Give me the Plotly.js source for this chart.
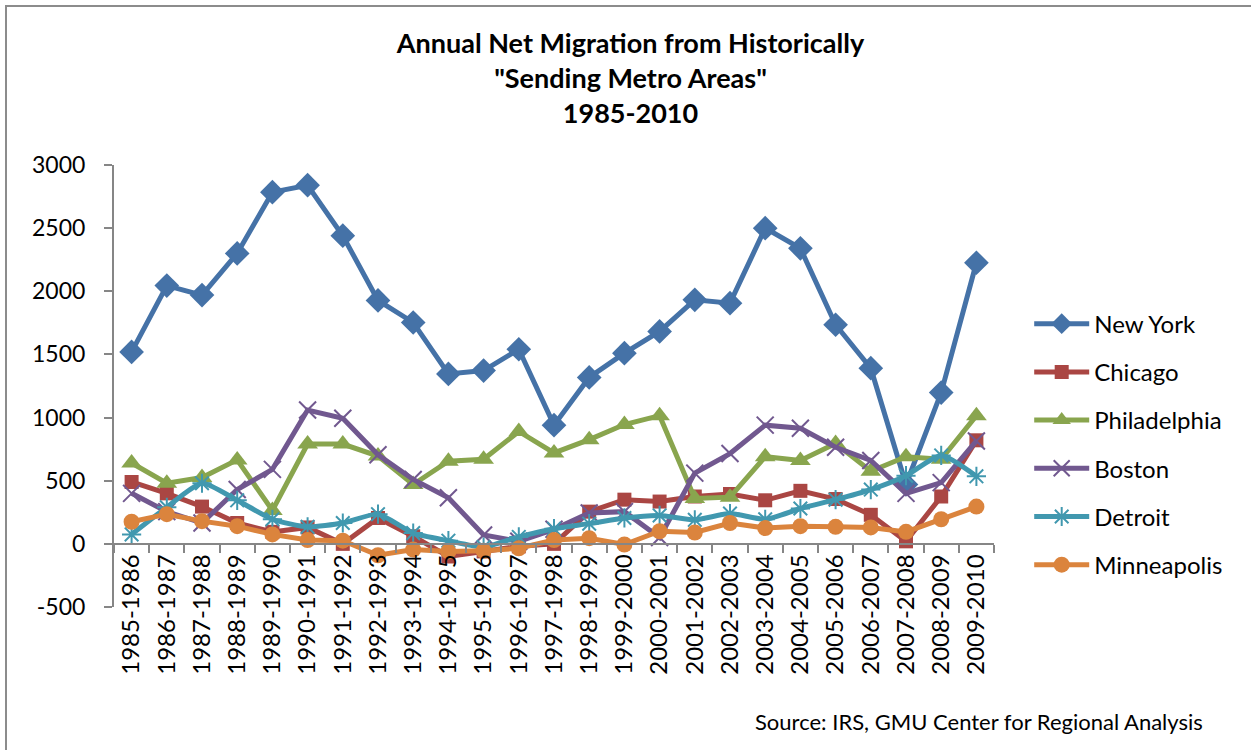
<!DOCTYPE html>
<html>
<head>
<meta charset="utf-8">
<script src="https://cdn.plot.ly/plotly-3.0.1.min.js"></script>
<style>
html,body{margin:0;padding:0;background:#fff;overflow:hidden;}
#chart{width:1251px;height:750px;position:absolute;left:0;top:0;}
#frame{position:absolute;left:5px;top:5px;width:1300px;height:800px;border:2px solid #8c8c8c;pointer-events:none;}
</style>
</head>
<body>
<div id="chart"></div>
<div id="frame"></div>
<script>
const periods = ['1985-1986','1986-1987','1987-1988','1988-1989','1989-1990','1990-1991','1991-1992','1992-1993','1993-1994','1994-1995','1995-1996','1996-1997','1997-1998','1998-1999','1999-2000','2000-2001','2001-2002','2002-2003','2003-2004','2004-2005','2005-2006','2006-2007','2007-2008','2008-2009','2009-2010'];
const newYork = [1520,2045,1970,2300,2785,2840,2440,1928,1753,1346,1372,1541,940,1318,1510,1682,1932,1906,2500,2340,1735,1391,470,1198,2226];
const chicago = [490,400,295,165,95,130,0,205,60,-100,-60,-20,0,255,350,335,375,395,345,420,355,230,20,375,820];
const philadelphia = [640,480,525,665,265,790,790,695,470,655,670,890,720,825,945,1015,360,370,690,660,795,575,690,670,1015];
const boston = [400,255,165,430,590,1060,995,705,510,365,70,20,115,245,255,50,560,715,940,915,765,660,400,485,815];
const detroit = [75,290,480,345,195,135,165,235,85,25,-25,55,120,160,205,225,190,240,195,280,350,430,540,700,535];
const minneapolis = [175,235,180,140,75,30,25,-90,-45,-60,-55,-35,30,45,-5,100,90,165,125,140,135,130,95,195,295];
const yTicks = [-500,0,500,1000,1500,2000,2500,3000];

const FONT = 'Lato, "Open Sans", sans-serif';

function series(name, y, color, symbol, size, shape, open) {
  const marker = {symbol: symbol, size: size, color: color};
  if (open) marker.line = {color: color, width: 2};
  return {
    type: 'scatter', mode: 'lines+markers', name: name, x: periods, y: y,
    legendgroup: name,
    line: {color: color, width: 5, shape: shape || 'linear', smoothing: 0.6},
    marker: marker
  };
}

const data = [
  series('New York', newYork, '#4572A7', 'diamond', 19),
  series('Chicago', chicago, '#AA4643', 'square', 14),
  series('Philadelphia', philadelphia, '#89A54E', 'triangle-up', 18),
  series('Boston', boston, '#71588F', 'x-thin-open', 17, 'linear', true),
  series('Detroit', detroit, '#4198AF', 'asterisk-open', 16, 'spline', true),
  series('Minneapolis', minneapolis, '#DB843D', 'circle', 16)
];

const layout = {
  width: 1251, height: 750,
  paper_bgcolor: '#fff', plot_bgcolor: 'rgba(0,0,0,0)',
  margin: {l: 114, r: 257, t: 165, b: 143, pad: 0},
  font: {family: FONT, size: 23, color: '#000'},
  title: {
    text: '<b>Annual Net Migration from Historically<br>"Sending Metro Areas"<br>1985-2010</b>',
    font: {family: FONT, size: 27, color: '#000'},
    x: 0.504, xanchor: 'center', y: 0.93, yanchor: 'top', yref: 'container'
  },
  xaxis: {
    type: 'category', range: [-0.5, 24.5],
    anchor: 'free', position: 500/3500,
    showline: true, linecolor: '#868686', linewidth: 2,
    ticks: 'outside', tickson: 'boundaries', ticklen: 8, tickcolor: '#868686', tickwidth: 2,
    tickangle: -90, tickfont: {family: FONT, size: 24, color: '#000'},
    showgrid: false, zeroline: false, fixedrange: true
  },
  yaxis: {
    range: [-500, 3000], tickvals: yTicks, ticktext: yTicks.map(String),
    showline: true, linecolor: '#868686', linewidth: 2,
    ticks: 'outside', ticklen: 8, tickcolor: '#868686', tickwidth: 2,
    ticklabelstandoff: 14,
    tickfont: {family: FONT, size: 23, color: '#000'},
    showgrid: false, zeroline: false, fixedrange: true
  },
  showlegend: true,
  legend: {
    x: 1.04, xanchor: 'left', y: 0.691, yanchor: 'top',
    font: {family: FONT, size: 24, color: '#000'},
    itemwidth: 55, tracegroupgap: 14, bgcolor: 'rgba(0,0,0,0)'
  },
  annotations: [{
    text: 'Source: IRS, GMU Center for Regional Analysis',
    xref: 'paper', yref: 'paper', x: 1.2398, y: -0.258,
    xanchor: 'right', yanchor: 'middle', showarrow: false,
    font: {family: FONT, size: 22, color: '#000'}
  }]
};

Plotly.newPlot('chart', data, layout, {displayModeBar: false, staticPlot: true});
</script>
</body>
</html>
